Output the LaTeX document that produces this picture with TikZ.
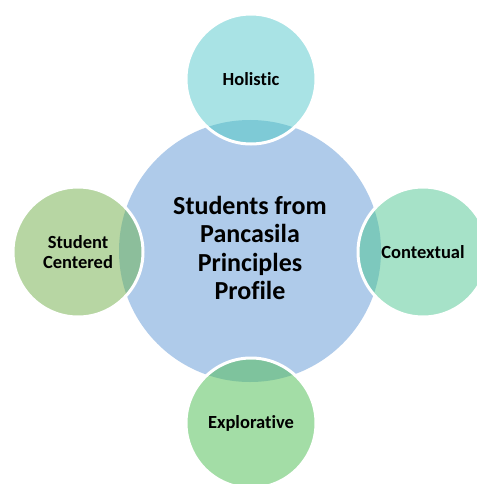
\documentclass[tikz,border=0pt]{standalone}
\usepackage{fontspec}
\setmainfont{Carlito}[Ligatures=NoCommon]
\definecolor{coreblue}{HTML}{AFCBEA}
\definecolor{holfill}{HTML}{A9E3E5}
\definecolor{holmix}{HTML}{7ECAD6}
\definecolor{stufill}{HTML}{B7D6A3}
\definecolor{stumix}{HTML}{8CBE9B}
\definecolor{confill}{HTML}{A6E2C8}
\definecolor{conmix}{HTML}{7DC8BD}
\definecolor{expfill}{HTML}{A3DDA6}
\definecolor{expmix}{HTML}{7EC39D}
\tikzset{
  hub/.style={circle, inner sep=0pt, minimum size=262pt, fill=coreblue,
    align=center, font=\bfseries\fontsize{26}{28.5}\selectfont},
  spoke/.style={circle, inner sep=0pt, minimum size=130pt,
    align=center, font=\bfseries\fontsize{18.5}{20.5}\selectfont},
  rim/.style={draw=white, line width=3pt}
}
\begin{document}
\begin{tikzpicture}[x=1pt,y=-1pt]
\useasboundingbox (0,0) rectangle (476,484);
\fill[white] (0,0) rectangle (476,484);
% central circle
\node[hub] (core) at (250,251) {};
% satellite circles: light fill, darker lens where they cover the hub, white rim
\foreach \nm/\px/\py/\cf/\cm in {holistic/251/79/holfill/holmix,
    student/78/252/stufill/stumix,
    contextual/423/252/confill/conmix,
    explorative/251/423/expfill/expmix}{
  \node[spoke, fill=\cf] (\nm) at (\px,\py) {};
  \begin{scope}
    \clip (core.center) circle[radius=131];
    \fill[\cm] (\nm.center) circle[radius=65];
  \end{scope}
  \draw[rim] (\nm.center) circle[radius=65];
}
% labels
\node[hub, fill=none] (coretext) at ([yshift=3pt]core.center) {Students from\\Pancasila\\Principles\\Profile};
\node[spoke] (holtext) at (holistic.center) {Holistic};
\node[spoke] (stutext) at (student.center) {Student\\Centered};
\node[spoke] (context) at (contextual.center) {Contextual};
\node[spoke] (exptext) at (explorative.center) {Explorative};
\end{tikzpicture}
\end{document}
